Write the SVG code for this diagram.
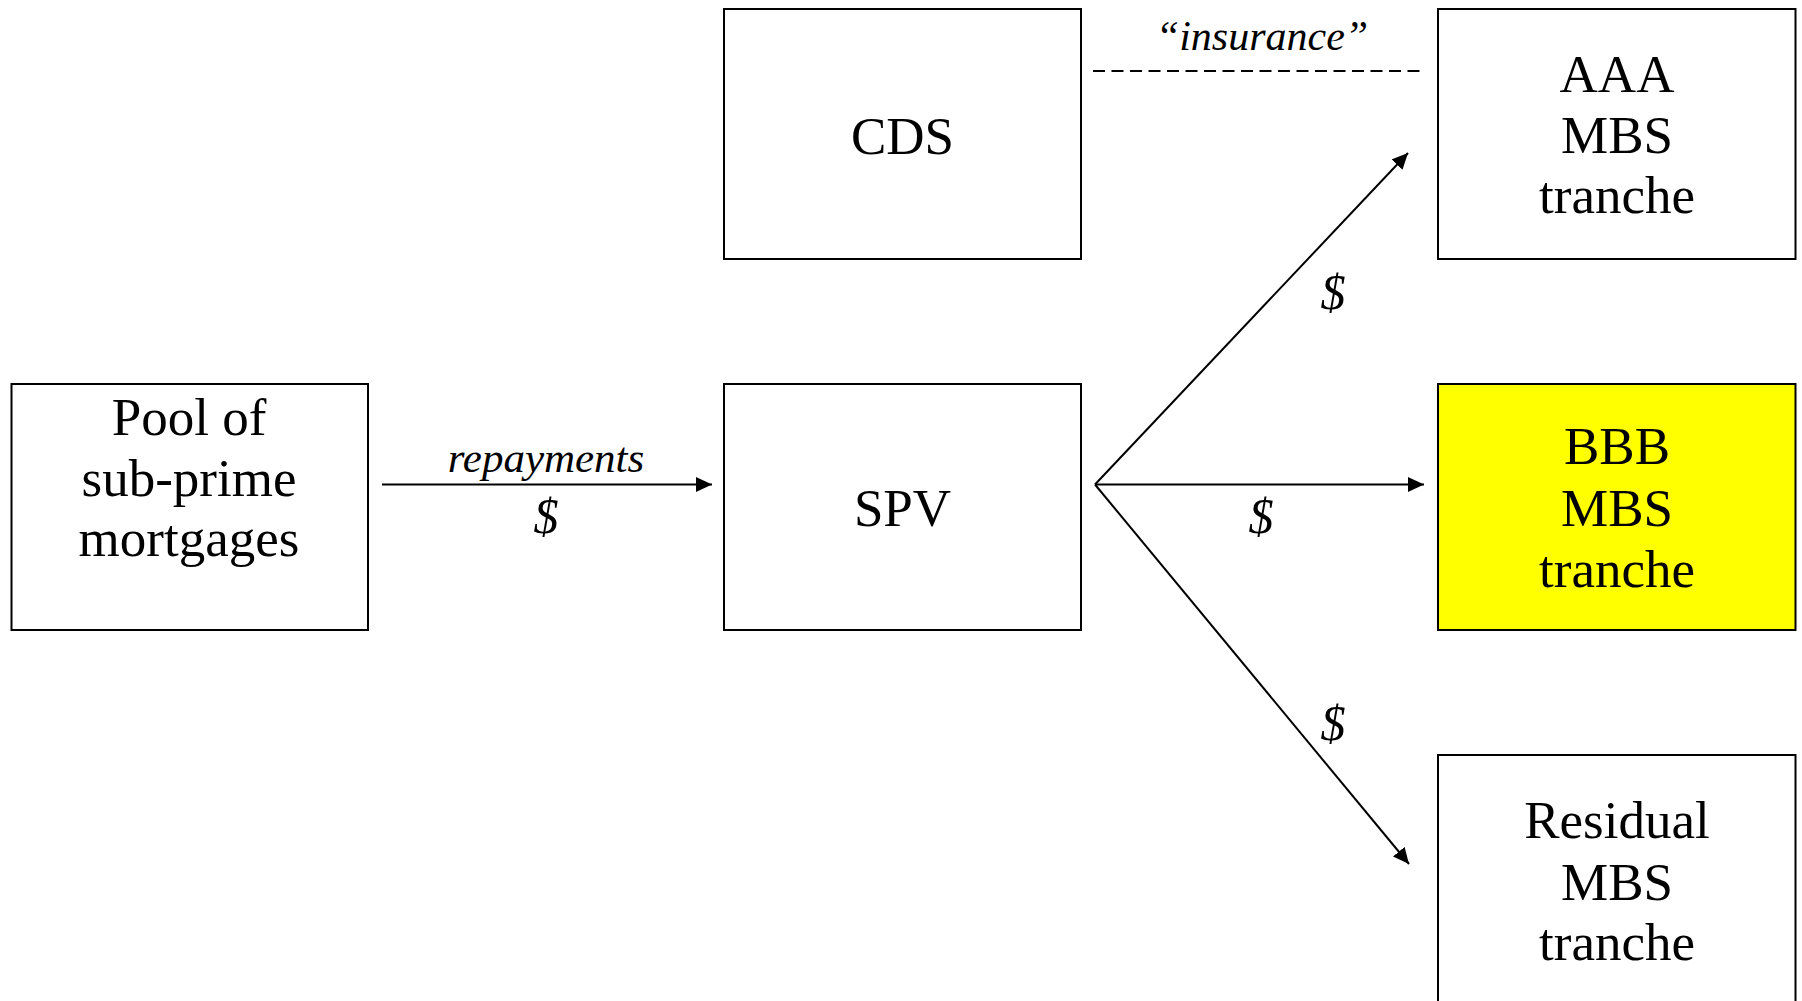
<svg xmlns="http://www.w3.org/2000/svg" width="1802" height="1001" viewBox="0 0 1802 1001">
  <style>
    .box { fill: #ffffff; stroke: #000000; stroke-width: 2; }
    .hl { fill: #ffff00; }
    .lbl { font-family: "Liberation Serif", "Times New Roman", serif; font-size: 53px; fill: #000; text-anchor: middle; }
    .it { font-family: "Liberation Serif", "Times New Roman", serif; font-style: italic; fill: #000; text-anchor: middle; }
    .edge { stroke: #000; stroke-width: 2; fill: none; }
    .dash { stroke: #000; stroke-width: 2; fill: none; stroke-dasharray: 12 6.5; }
  </style>
  <defs>
    <!-- solid triangular arrowhead, fixed size in user units -->
    <marker id="arrow" viewBox="0 0 16 15" refX="16" refY="7.5" markerWidth="16" markerHeight="15" markerUnits="userSpaceOnUse" orient="auto">
      <path d="M0,0 L16,7.5 L0,15 z" fill="#000"/>
    </marker>
  </defs>
  <rect width="1802" height="1001" fill="#ffffff"/>

  <g id="pool">
    <rect class="box" x="11.5" y="384" width="356.5" height="246"/>
    <text class="lbl" x="189" y="435">Pool of</text>
    <text class="lbl" x="189" y="496">sub-prime</text>
    <text class="lbl" x="189" y="556">mortgages</text>
  </g>

  <g id="cds">
    <rect class="box" x="724" y="9" width="357" height="250"/>
    <text class="lbl" x="902.5" y="154">CDS</text>
  </g>

  <g id="spv">
    <rect class="box" x="724" y="384" width="357" height="246"/>
    <text class="lbl" x="902.5" y="526">SPV</text>
  </g>

  <g id="aaa">
    <rect class="box" x="1438" y="9" width="357.5" height="250"/>
    <text class="lbl" x="1617" y="92">AAA</text>
    <text class="lbl" x="1617" y="153">MBS</text>
    <text class="lbl" x="1617" y="213">tranche</text>
  </g>

  <g id="bbb">
    <rect class="box hl" x="1438" y="384" width="357.5" height="246"/>
    <text class="lbl" x="1617" y="464">BBB</text>
    <text class="lbl" x="1617" y="526">MBS</text>
    <text class="lbl" x="1617" y="587">tranche</text>
  </g>

  <g id="residual">
    <rect class="box" x="1438" y="755" width="357.5" height="260"/>
    <text class="lbl" x="1617" y="838">Residual</text>
    <text class="lbl" x="1617" y="900">MBS</text>
    <text class="lbl" x="1617" y="960">tranche</text>
  </g>

  <g id="connectors">
    <line class="edge" x1="382" y1="484.5" x2="712" y2="484.5" marker-end="url(#arrow)"/>
    <text class="it" x="546" y="472" font-size="43">repayments</text>
    <text class="it" x="546" y="533" font-size="50">$</text>

    <line class="edge" x1="1095" y1="484.5" x2="1408" y2="153" marker-end="url(#arrow)"/>
    <text class="it" x="1333" y="309" font-size="50">$</text>

    <line class="edge" x1="1095" y1="484.5" x2="1424" y2="484.5" marker-end="url(#arrow)"/>
    <text class="it" x="1261" y="533" font-size="50">$</text>

    <line class="edge" x1="1095" y1="484.5" x2="1409" y2="864" marker-end="url(#arrow)"/>
    <text class="it" x="1333" y="740" font-size="50">$</text>

    <line class="dash" x1="1093" y1="71" x2="1422" y2="71"/>
    <text class="it" x="1262" y="50" font-size="42">“insurance”</text>
  </g>
</svg>
